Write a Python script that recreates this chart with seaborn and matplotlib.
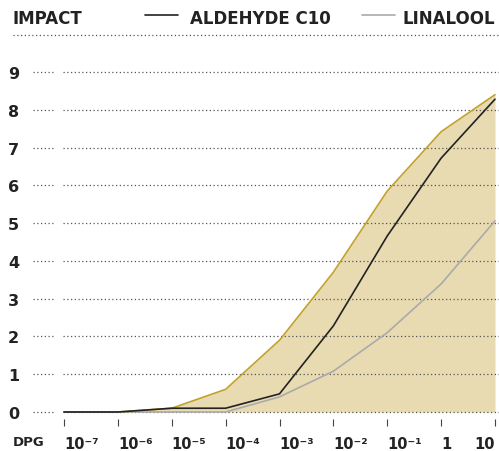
import numpy as np
import pandas as pd
import seaborn as sns
import matplotlib.pyplot as plt

# log10 of dose per gram
dpg = [-7, -6, -5, -4, -3, -2, -1, 0, 1]
tick_labels = ["10⁻⁷", "10⁻⁶", "10⁻⁵", "10⁻⁴", "10⁻³", "10⁻²", "10⁻¹", "1", "10"]
envelope = [0, 0, 0.1, 0.6, 1.9, 3.7, 5.85, 7.42, 8.4]
aldehyde = [0, 0, 0.1, 0.1, 0.48, 2.28, 4.66, 6.72, 8.28]
linalool = [0, 0, 0, 0, 0.4, 1.08, 2.1, 3.39, 5.06]
y_ticks = list(range(10))

sns.set_style("white")
plt.rcParams["font.family"] = ["DejaVu Sans"]

dark = "#222222"
gold = "#c2a12c"
fill = "#e8dbb1"

W, H = 499, 452
fig = plt.figure(figsize=(W / 100, H / 100), dpi=100)
# axes: left edge 63px, right 499px, top 60px, bottom 420px
ax = fig.add_axes([63 / W, 1 - 420 / H, 436 / W, 360 / H])

px_x = 431 / 8
px_y = 340 / 9
ax.set_xlim(-7 - 1 / px_x, 1 + 4 / px_x)
ax.set_ylim(-7 / px_y, 9 + 13 / px_y)

ax.fill_between(dpg, 0, envelope, color=fill, lw=0, zorder=1)

for yv in y_ticks:
    ax.axhline(yv, color="#555555", lw=0.9, ls=(0, (1, 2)), zorder=2)
    ax.plot([-0.069, -0.018], [yv, yv], transform=ax.get_yaxis_transform(),
            color="#555555", lw=0.9, ls=(0, (1, 2)), clip_on=False)

sns.lineplot(x=dpg, y=envelope, color=gold, lw=1.2, ax=ax, zorder=3)
sns.lineplot(x=dpg, y=linalool, color="#aaaaaa", lw=1.2, ax=ax, zorder=4)
sns.lineplot(x=dpg, y=aldehyde, color=dark, lw=1.2, ax=ax, zorder=5)

for s in ax.spines.values():
    s.set_visible(False)

ax.set_xticks(dpg)
ax.set_xticklabels(tick_labels)
ax.set_yticks(y_ticks)
ax.set_yticklabels([str(v) for v in y_ticks])
ax.tick_params(axis="x", bottom=True, length=5, width=0.8, color="#444444",
               pad=7, labelsize=10.5, labelcolor=dark)
ax.tick_params(axis="y", left=False, pad=36, labelsize=11.5, labelcolor=dark)
xlabs = ax.get_xticklabels()
for lab in xlabs[:-1]:
    lab.set_horizontalalignment("left")
xlabs[-1].set_horizontalalignment("right")
for lab in ax.get_yticklabels():
    lab.set_horizontalalignment("left")
for lab in xlabs + ax.get_yticklabels():
    lab.set_fontweight("bold")
ax.set_xlabel("")
ax.set_ylabel("")

# header
fig.text(13 / W, 1 - 19 / H, "IMPACT", fontsize=12, fontweight="bold",
         color=dark, va="center", ha="left")
fig.text(13 / W, 1 - 443 / H, "DPG", fontsize=9.5, fontweight="bold",
         color=dark, va="center", ha="left")
fig.add_artist(plt.Line2D([145 / W, 178 / W], [1 - 16 / H] * 2, color=dark, lw=1.2))
fig.text(190 / W, 1 - 19 / H, "ALDEHYDE C10", fontsize=12, fontweight="bold",
         color=dark, va="center", ha="left")
fig.add_artist(plt.Line2D([362 / W, 395 / W], [1 - 16 / H] * 2, color="#aaaaaa", lw=1.2))
fig.text(403 / W, 1 - 19 / H, "LINALOOL", fontsize=12, fontweight="bold",
         color=dark, va="center", ha="left")
fig.add_artist(plt.Line2D([13 / W, 1], [1 - 36 / H] * 2, color="#555555",
                          lw=0.9, ls=(0, (1, 2))))

fig.savefig("out.png", dpi=100)
